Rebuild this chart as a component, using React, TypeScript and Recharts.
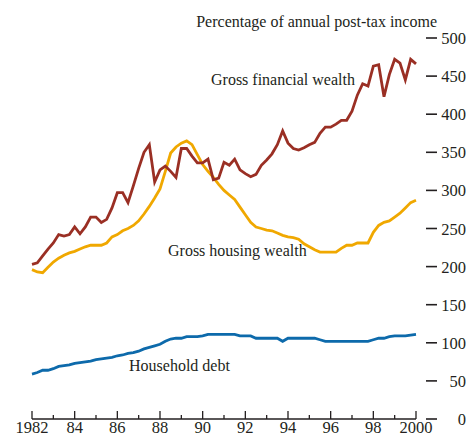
import React from 'react';
import { LineChart, Line, XAxis, YAxis } from 'recharts';

// quarterly, 1982Q1 .. 2000Q1, % of annual post-tax income
const financialWealth = [
  203, 205, 214, 223,
  231, 242, 240, 242,
  252, 243, 252, 265,
  265, 258, 262, 277,
  297, 297, 284, 306,
  329, 350, 360, 311,
  327, 332, 325, 317,
  355, 355, 345, 336,
  336, 341, 314, 316,
  337, 333, 341, 327,
  322, 318, 321, 333,
  340, 348, 360, 378,
  362, 355, 353, 356,
  360, 363, 375, 383,
  383, 387, 392, 392,
  404, 425, 440, 437,
  463, 465, 423, 452,
  472, 467, 445, 472,
  466,
];

const housingWealth = [
  196, 193, 192, 199,
  206, 211, 215, 218,
  220, 223, 226, 228,
  228, 228, 231, 239,
  242, 247, 250, 254,
  260, 269, 279, 290,
  302, 325, 349, 357,
  362, 365, 360, 347,
  334, 325, 317, 308,
  300, 294, 288, 278,
  268, 258, 252, 250,
  248, 247, 244, 241,
  239, 238, 236, 230,
  226, 222, 219, 219,
  219, 219, 224, 228,
  228, 231, 231, 231,
  245, 254, 258, 260,
  265, 270, 277, 284,
  287,
];

const householdDebt = [
  59, 61, 64, 64,
  66, 69, 70, 71,
  73, 74, 75, 76,
  78, 79, 80, 81,
  83, 84, 86, 87,
  89, 92, 94, 96,
  98, 102, 105, 106,
  106, 108, 108, 108,
  109, 111, 111, 111,
  111, 111, 111, 109,
  109, 109, 106, 106,
  106, 106, 106, 102,
  106, 106, 106, 106,
  106, 106, 104, 102,
  102, 102, 102, 102,
  102, 102, 102, 102,
  104, 106, 106, 108,
  109, 109, 109, 110,
  111,
];

const yearTicks = [
  1982, 1983, 1984, 1985, 1986, 1987, 1988, 1989, 1990, 1991,
  1992, 1993, 1994, 1995, 1996, 1997, 1998, 1999, 2000,
];
const valueTicks = [0, 50, 100, 150, 200, 250, 300, 350, 400, 450, 500];

const data = financialWealth.map((v, i) => ({
  t: 1982 + i / 4,
  financial: v,
  housing: housingWealth[i],
  debt: householdDebt[i],
}));

const FONT = '"Liberation Serif", "Times New Roman", serif';
const INK = '#231f20';

const YearTick = ({ x, y, payload }: any) => {
  const yr = payload.value as number;
  const major = yr % 2 === 0;
  const label = yr === 1982 || yr === 2000 ? String(yr) : String(yr).slice(2);
  return (
    <g>
      <line x1={x} x2={x} y1={y} y2={y - (major ? 8 : 4)} stroke={INK} strokeWidth={1.3} />
      {major && (
        <text x={x} y={y + 14} textAnchor="middle" fontFamily={FONT} fontSize={16.5} fill={INK}>
          {label}
        </text>
      )}
    </g>
  );
};

const RightTick = ({ x, y, payload }: any) => (
  <g>
    <line x1={x + 10} x2={x + 21} y1={y} y2={y} stroke={INK} strokeWidth={1.6} />
    <text x={x + 50} y={y + 6} textAnchor="end" fontFamily={FONT} fontSize={16.5} fill={INK}>
      {payload.value}
    </text>
  </g>
);

const LeftTick = ({ x, y }: any) => (
  <line x1={x - 24} x2={x - 12} y1={y} y2={y} stroke={INK} strokeWidth={1.6} />
);

export default function App() {
  return (
    <div style={{ position: 'absolute', left: 0, top: 0, width: 467, height: 437 }}>
      <LineChart width={467} height={437} data={data} margin={{ top: 38, right: 0, bottom: 0, left: 0 }}>
        <XAxis
          dataKey="t"
          type="number"
          domain={[1982, 2000]}
          ticks={yearTicks}
          interval={0}
          height={18}
          tickSize={0}
          tickMargin={0}
          tickLine={false}
          axisLine={{ stroke: INK, strokeWidth: 1.3 }}
          tick={<YearTick />}
        />
        <YAxis
          yAxisId="left"
          orientation="left"
          width={32}
          domain={[0, 500]}
          ticks={valueTicks}
          interval={0}
          tickSize={0}
          tickMargin={0}
          tickLine={false}
          axisLine={false}
          tick={<LeftTick />}
        />
        <YAxis
          yAxisId="right"
          orientation="right"
          width={51}
          domain={[0, 500]}
          ticks={valueTicks}
          interval={0}
          tickSize={0}
          tickMargin={0}
          tickLine={false}
          axisLine={false}
          tick={<RightTick />}
        />
        <Line yAxisId="right" dataKey="debt" stroke="#0d6aab" strokeWidth={2.8} dot={false} isAnimationActive={false} />
        <Line yAxisId="right" dataKey="housing" stroke="#f0a800" strokeWidth={2.8} dot={false} isAnimationActive={false} />
        <Line yAxisId="right" dataKey="financial" stroke="#9a2f24" strokeWidth={2.8} dot={false} isAnimationActive={false} />
      </LineChart>
      <svg
        width={467}
        height={437}
        style={{ position: 'absolute', left: 0, top: 0, pointerEvents: 'none' }}
        fontFamily={FONT}
        fontSize={16}
        fill={INK}
      >
        <text x={437} y={27} textAnchor="end">Percentage of annual post-tax income</text>
        <text x={211} y={85}>Gross financial wealth</text>
        <text x={168} y={256}>Gross housing wealth</text>
        <text x={129} y={371}>Household debt</text>
      </svg>
    </div>
  );
}
